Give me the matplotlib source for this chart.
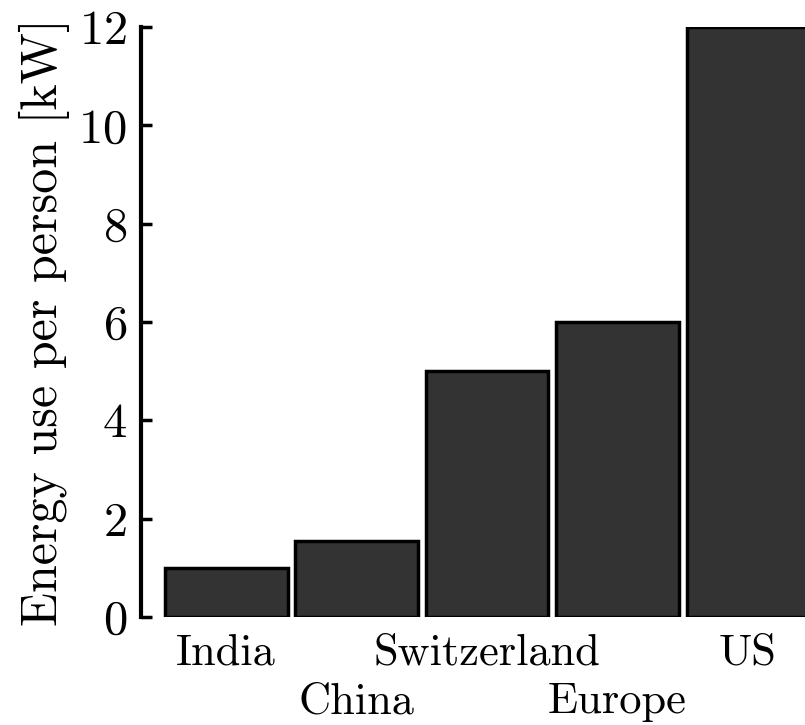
import numpy as np
import matplotlib
matplotlib.use("Agg")
import matplotlib.pyplot as plt

plt.rcParams['font.family'] = ['cmr10', 'DejaVu Serif']
plt.rcParams['axes.unicode_minus'] = False
plt.rcParams['axes.formatter.use_mathtext'] = True

countries = ["India", "China", "Switzerland", "Europe", "US"]
energy = [1.0, 1.55, 5.0, 6.0, 12.0]

fig = plt.figure(figsize=(8.05, 7.25), dpi=100)
ax = fig.add_axes([0.175, 0.149, 0.825, 0.8138])

x = np.arange(len(countries))
ax.bar(x, energy, width=0.94, color="#333333", edgecolor="black", linewidth=2.5)

ax.set_xlim(-0.654, 4.437)
ax.set_ylim(0, 12)
ax.set_yticks([0, 2, 4, 6, 8, 10, 12])

# staggered labels: even bars on major ticks, odd bars on minor ticks one row lower
ax.set_xticks(x[::2])
ax.set_xticklabels(countries[::2], fontsize=32)
ax.set_xticks(x[1::2], minor=True)
ax.set_xticklabels(countries[1::2], minor=True, fontsize=32)
ax.tick_params(axis='x', which='major', length=0, pad=12)
ax.tick_params(axis='x', which='minor', length=0, pad=47)
ax.tick_params(axis='y', direction='in', length=8, width=2.5, labelsize=35, pad=10)

ax.set_ylabel("Energy use per person [kW]", fontsize=36, labelpad=6)

for s in ["top", "right", "bottom"]:
    ax.spines[s].set_visible(False)
ax.spines["left"].set_linewidth(3)

fig.savefig("out.png", dpi=100)
